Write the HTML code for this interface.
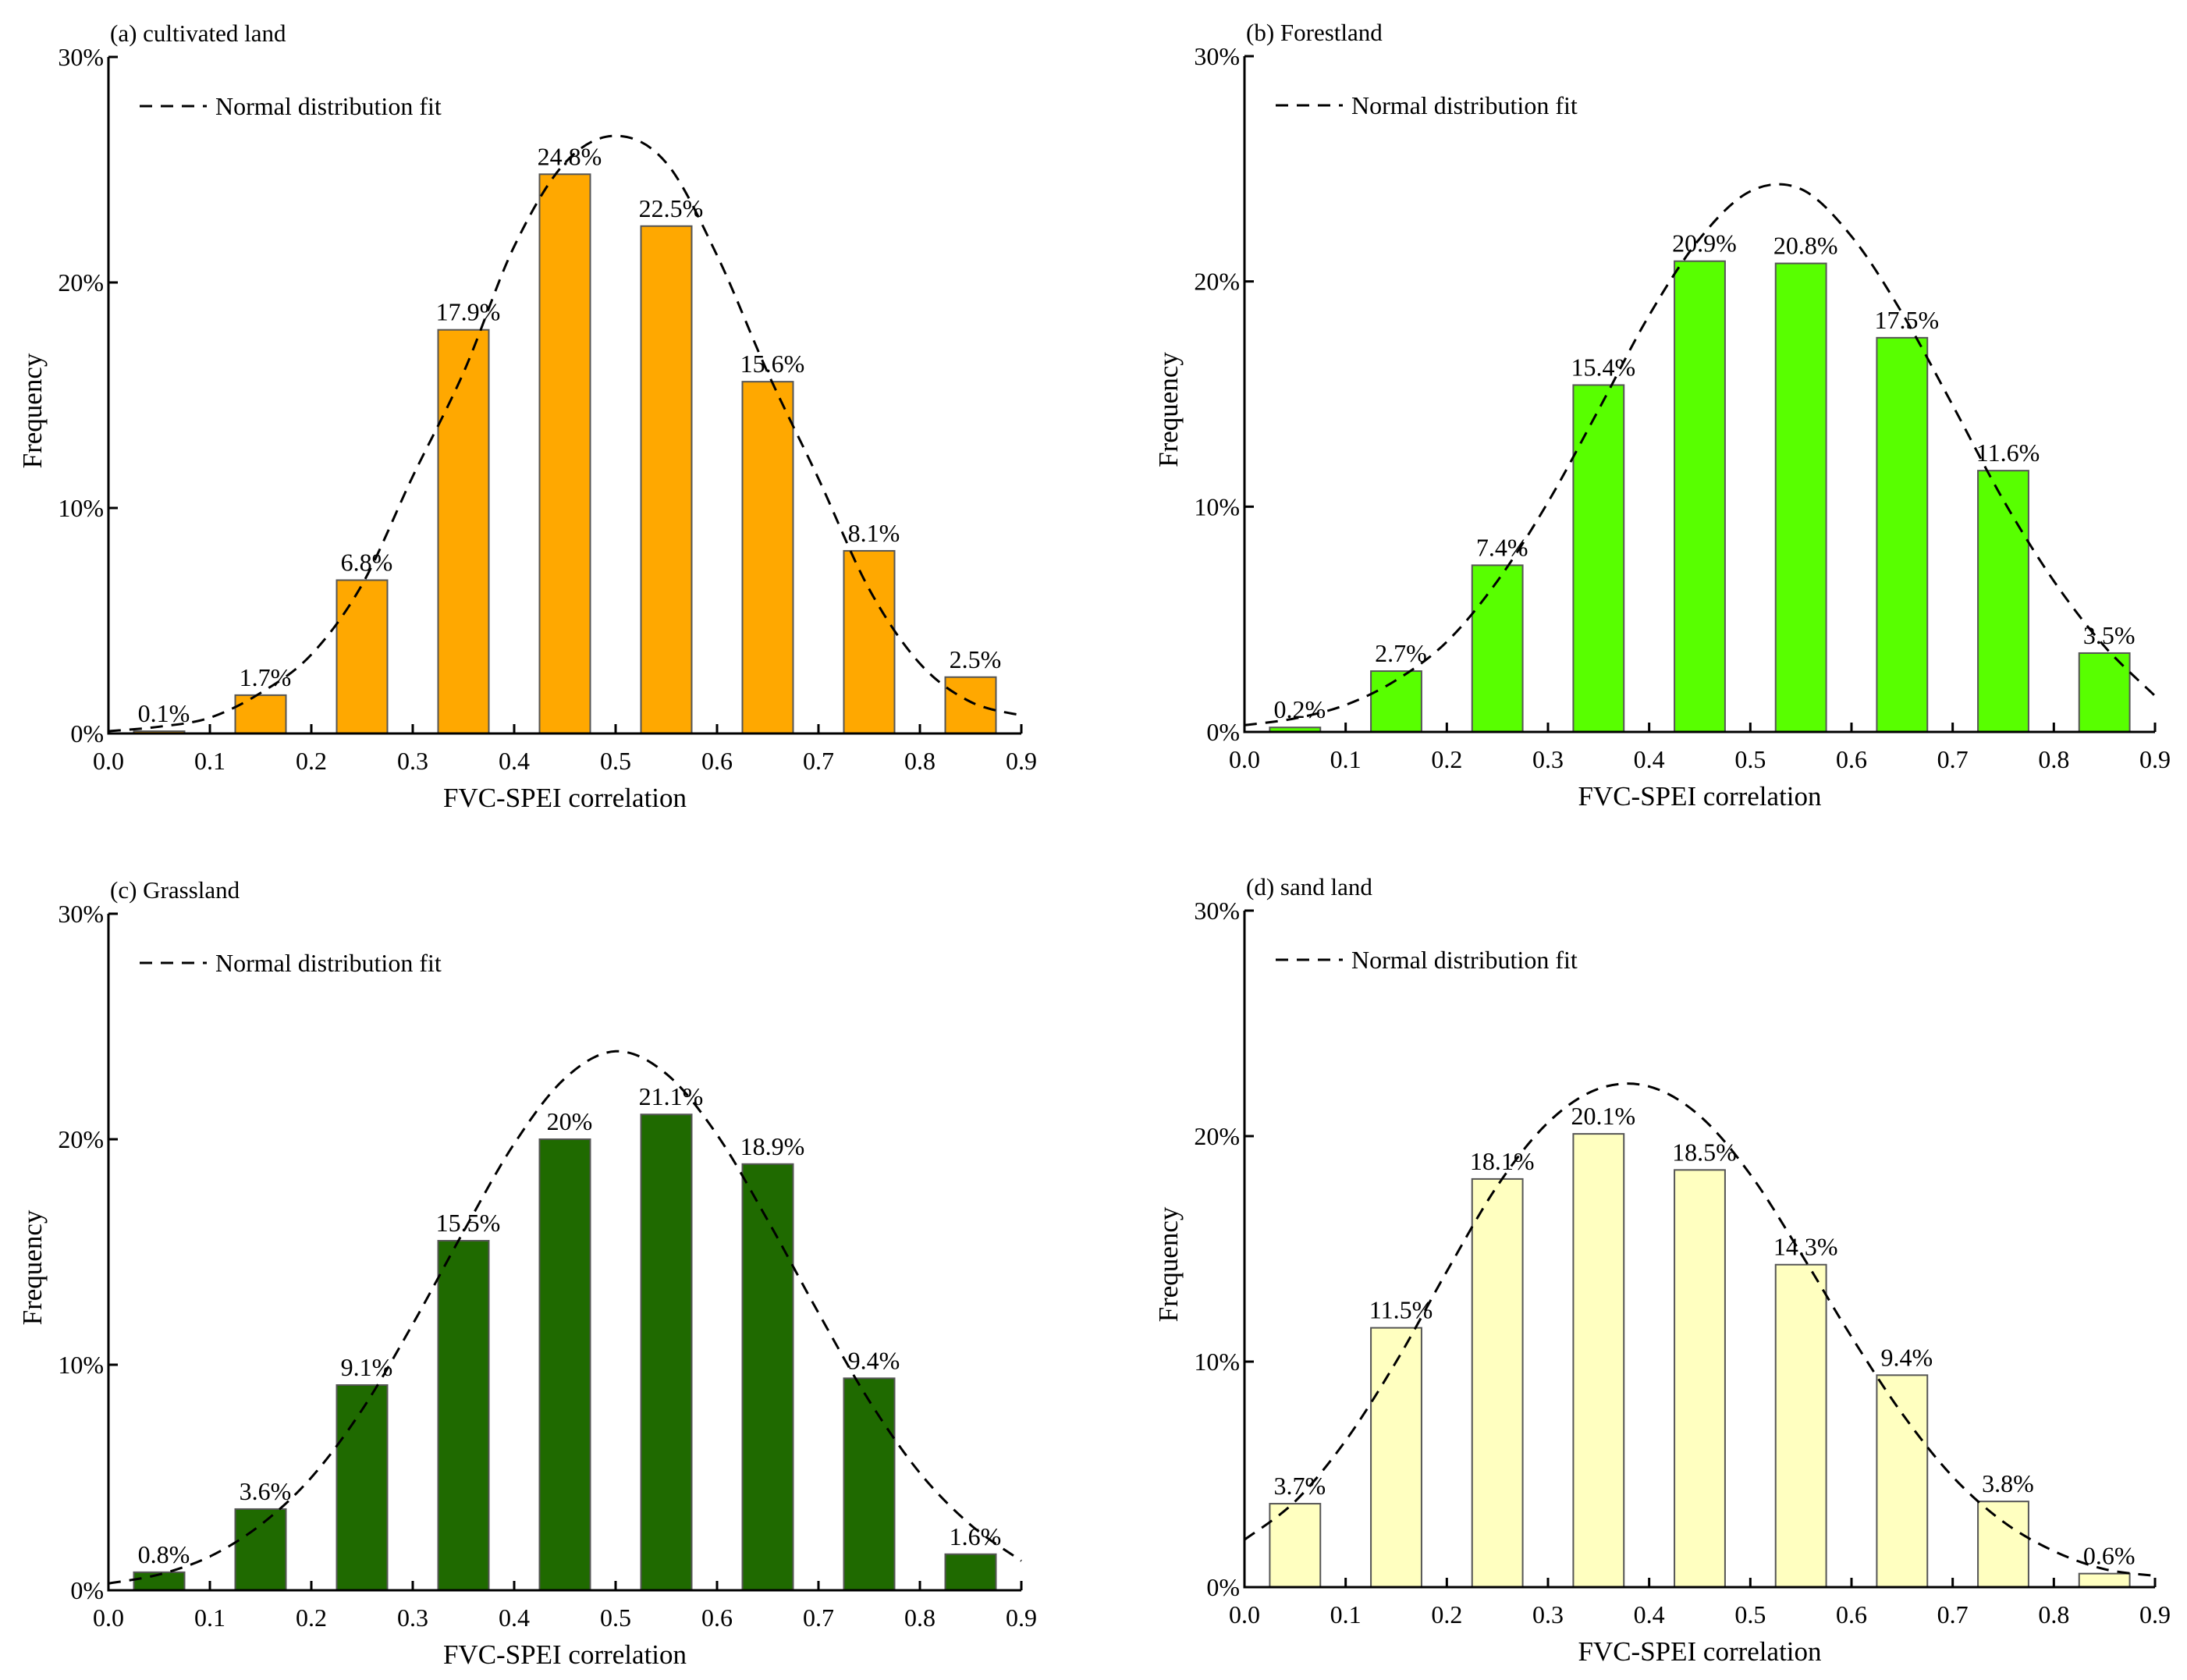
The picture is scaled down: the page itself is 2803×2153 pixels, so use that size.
<!DOCTYPE html>
<html><head><meta charset="utf-8"><style>
html,body{margin:0;padding:0;background:#fff;}
svg{display:block;font-family:"Liberation Serif",serif;}
</style></head><body>
<svg id="chart" width="2803" height="2153" viewBox="0 0 2803 2153" xmlns="http://www.w3.org/2000/svg"></svg>
<script>
const binCenters = [0.05,0.15,0.25,0.35,0.45,0.55,0.65,0.75,0.85];
const xTicks = [0,0.1,0.2,0.3,0.4,0.5,0.6,0.7,0.8,0.9];
const xTickLabels = ["0.0","0.1","0.2","0.3","0.4","0.5","0.6","0.7","0.8","0.9"];
const yTicks = [0,10,20,30];
const yTickLabels = ["0%","10%","20%","30%"];
const curveX = [0,0.05,0.1,0.15,0.2,0.25,0.3,0.35,0.4,0.45,0.5,0.55,0.6,0.65,0.7,0.75,0.8,0.85,0.9];
const valuesA = [0.1,1.7,6.8,17.9,24.8,22.5,15.6,8.1,2.5];
const valuesB = [0.2,2.7,7.4,15.4,20.9,20.8,17.5,11.6,3.5];
const valuesC = [0.8,3.6,9.1,15.5,20,21.1,18.9,9.4,1.6];
const valuesD = [3.7,11.5,18.1,20.1,18.5,14.3,9.4,3.8,0.6];
const curveA = [0.1,0.3,0.7,1.8,3.5,6.6,11.4,16.0,21.6,25.3,26.5,25.3,21.2,16.0,11.3,6.4,3.1,1.4,0.8];
const curveB = [0.3,0.6,1.2,2.3,4.0,6.7,10.2,14.3,18.5,21.9,24.0,24.1,22.0,18.6,14.5,10.3,6.7,3.8,1.6];
const curveC = [0.3,0.7,1.5,2.9,5.0,8.0,11.8,15.9,19.8,22.7,23.9,22.9,20.2,16.4,12.3,8.4,5.2,2.9,1.3];
const curveD = [2.1,3.8,6.5,10.0,14.0,17.8,20.6,22.1,22.2,20.9,18.3,14.8,11.1,7.7,4.9,2.9,1.6,0.8,0.5];

const NS="http://www.w3.org/2000/svg";
const svg=document.getElementById('chart');
function mk(tag,attrs,parent){const e=document.createElementNS(NS,tag);for(const k in attrs)e.setAttribute(k,attrs[k]);(parent||svg).appendChild(e);return e;}
function smooth(pts){
 let d='M'+pts[0][0].toFixed(1)+','+pts[0][1].toFixed(1);
 for(let i=0;i<pts.length-1;i++){
  const p0=pts[Math.max(0,i-1)],p1=pts[i],p2=pts[i+1],p3=pts[Math.min(pts.length-1,i+2)];
  const c1=[p1[0]+(p2[0]-p0[0])/6,p1[1]+(p2[1]-p0[1])/6];
  const c2=[p2[0]-(p3[0]-p1[0])/6,p2[1]-(p3[1]-p1[1])/6];
  d+=` C${c1[0].toFixed(1)},${c1[1].toFixed(1)} ${c2[0].toFixed(1)},${c2[1].toFixed(1)} ${p2[0].toFixed(1)},${p2[1].toFixed(1)}`;
 }
 return d;
}

const panels=[
 {key:'a',title:'(a) cultivated land',x0:139,x1:1309,y0:940,y30:73,vals:valuesA,curve:curveA,color:'#FFA800'},
 {key:'b',title:'(b) Forestland',x0:1595,x1:2762,y0:938,y30:72,vals:valuesB,curve:curveB,color:'#58FF00'},
 {key:'c',title:'(c) Grassland',x0:139,x1:1309,y0:2038,y30:1171,vals:valuesC,curve:curveC,color:'#1F6A00'},
 {key:'d',title:'(d) sand land',x0:1595,x1:2762,y0:2034,y30:1167,vals:valuesD,curve:curveD,color:'#FFFFC0'}
];

panels.forEach(p=>{
 const g=mk('g',{});
 
 
 const sx=v=>p.x0+(v/0.9)*(p.x1-p.x0);
 const sy=v=>p.y0-(v/30)*(p.y0-p.y30);
 binCenters.forEach((c,i)=>{
  const v=p.vals[i];
  const r=mk('rect',{x:sx(c-0.025),y:sy(v),width:sx(c+0.025)-sx(c-0.025),height:p.y0-sy(v),fill:p.color,stroke:'#555',"stroke-width":2},g);
  
  
  const t=mk('text',{x:sx(c)+6,y:sy(v)-12,"text-anchor":"middle","font-size":32,fill:'#000'},g);
  t.textContent=v+'%';
  
  
 });
 const pts=curveX.map((x,i)=>[sx(x),sy(p.curve[i])]);
 const path=mk('path',{d:smooth(pts),fill:'none',stroke:'#000',"stroke-width":3,"stroke-dasharray":"16,11"},g);
 
 
 const ax=mk('path',{d:`M${p.x0},${p.y30} L${p.x0},${p.y0} L${p.x1},${p.y0}`,fill:'none',stroke:'#000',"stroke-width":3},g);
 
 
 xTicks.forEach((v,i)=>{
  mk('line',{x1:sx(v),x2:sx(v),y1:p.y0,y2:p.y0-12,stroke:'#000',"stroke-width":3},g);
  const t=mk('text',{x:sx(v),y:p.y0+46,"text-anchor":"middle","font-size":32},g);
  t.textContent=xTickLabels[i];
  
  
 });
 yTicks.forEach((v,i)=>{
  mk('line',{x1:p.x0,x2:p.x0+12,y1:sy(v),y2:sy(v),stroke:'#000',"stroke-width":3},g);
  const t=mk('text',{x:p.x0-6,y:sy(v)+11,"text-anchor":"end","font-size":32},g);
  t.textContent=yTickLabels[i];
  
  
 });
 const tt=mk('text',{x:p.x0+2,y:p.y30-20,"font-size":31},g);
 tt.textContent=p.title;
 
 
 const xt=mk('text',{x:(p.x0+p.x1)/2,y:p.y0+94,"text-anchor":"middle","font-size":35},g);
 xt.textContent='FVC-SPEI correlation';
 
 
 const cy=(p.y0+p.y30)/2+20;
 const yt=mk('text',{x:p.x0-86,y:cy,"text-anchor":"middle","font-size":35,transform:`rotate(-90 ${p.x0-86} ${cy})`},g);
 yt.textContent='Frequency';
 
 
 const lg=mk('g',{},g);
 
 
 const ly=p.y30+63;
 mk('line',{x1:p.x0+40,x2:p.x0+126,y1:ly,y2:ly,stroke:'#000',"stroke-width":3,"stroke-dasharray":"16,11"},lg);
 const lt=mk('text',{x:p.x0+137,y:ly+11,"font-size":32},lg);
 lt.textContent='Normal distribution fit';
});
</script>
</body></html>
